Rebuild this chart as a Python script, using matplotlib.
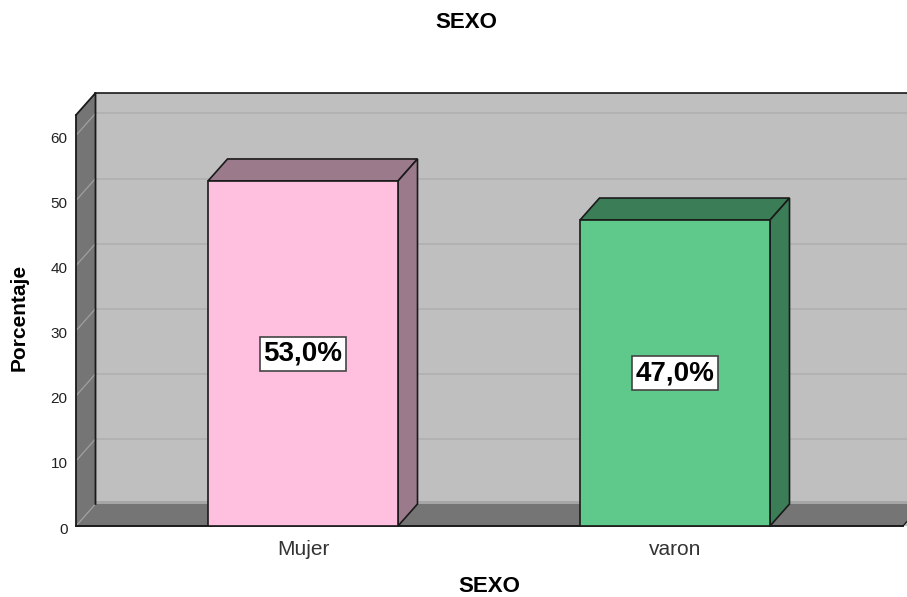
import matplotlib
matplotlib.use('Agg')
import matplotlib.pyplot as plt
from matplotlib.transforms import ScaledTranslation

plt.rcParams['font.family'] = ['Liberation Sans', 'DejaVu Sans']

categories = ['Mujer', 'varon']
percent = [53.0, 47.0]
bar_labels = ['53,0%', '47,0%']
yticks = [0, 10, 20, 30, 40, 50, 60]

front_colors = ['#ffc0e0', '#5ec98b']
side_colors = ['#9b7a8c', '#3a7d56']

W, H = 907, 597
fig = plt.figure(figsize=(W / 100, H / 100), dpi=100)
# axes box in pixels of the picture
left, right, bottom, top = 76, 907, 526, 93
ax = fig.add_axes([left / W, 1 - bottom / H, (right - left) / W, (bottom - top) / H])

px_y = 6.51   # pixels per percent
px_x = 372.0  # pixels between the bars
ax.set_xlim((left - 303) / px_x, (right - 303) / px_x)
ax.set_ylim(0, (bottom - top) / px_y)
dx = 19.5 / px_x
dy = 22 / px_y
x0, x1 = ax.get_xlim()
ytop = ax.get_ylim()[1]
width = 190 / px_x
floor_end = x1 - 4 / px_x
line = '#1a1a1a'

ax.set_facecolor('white')
for s in ax.spines.values():
    s.set_visible(False)

# back wall and its grid
ax.fill([x0 + dx, x1, x1, x0 + dx], [0, 0, ytop, ytop], color='#bfbfbf', zorder=0.5, lw=0)
for t in yticks[1:]:
    ax.plot([x0 + dx, x1], [t + dy, t + dy], color='#b0b0b0', lw=1.2, zorder=1)
ax.plot([x0 + dx, x1], [ytop, ytop], color=line, lw=1.2, zorder=2, clip_on=False)

# side wall
ax.fill([x0, x0 + dx, x0 + dx, x0], [0, dy, ytop, ytop - dy], color='#757575', zorder=2, lw=0)
for t in yticks:
    ax.plot([x0, x0 + dx], [t, t + dy], color='#a0a0a0', lw=0.9, zorder=3)
ax.plot([x0, x0 + dx, x0 + dx], [ytop - dy, ytop, dy], color=line, lw=1.3, zorder=4, clip_on=False)
ax.plot([x0, x0], [0, ytop - dy], color=line, lw=1.3, zorder=4, clip_on=False)

# floor
ax.fill([x0 + dx, x1 + dx, x1 + dx, x0 + dx], [dy, dy, dy + 0.5, dy + 0.5], color='#a6a6a6', zorder=1.5, lw=0)
ax.fill([x0, floor_end, floor_end + dx, x0 + dx], [0, 0, dy, dy], color='#757575', zorder=2, lw=0)
ax.plot([x0, floor_end], [0, 0], color=line, lw=1.4, zorder=4, clip_on=False)
ax.plot([floor_end, x1], [0, (x1 - floor_end) / dx * dy], color=line, lw=0.9, zorder=4)

# bars
for i, v in enumerate(percent):
    l, r = i - width / 2, i + width / 2
    ax.bar(i, v, width=width, color=front_colors[i], edgecolor=line, linewidth=1.2, zorder=6)
    ax.fill([l, l + dx, r + dx, r], [v, v + dy, v + dy, v], facecolor=side_colors[i],
            edgecolor=line, linewidth=1.2, zorder=5)
    ax.fill([r, r + dx, r + dx, r], [0, dy, v + dy, v], facecolor=side_colors[i],
            edgecolor=line, linewidth=1.2, zorder=5)
    ax.text(i, v / 2 - 0.05, bar_labels[i], ha='center', va='center', fontsize=20, fontweight='bold',
            color='black', zorder=7,
            bbox=dict(boxstyle='square,pad=0.14', facecolor='white', edgecolor='#444444', linewidth=1.2))

ax.set_yticks(yticks)
ax.set_xticks(range(len(categories)))
ax.set_xticklabels(categories, fontsize=15, color='#333333')
ax.tick_params(axis='both', length=0)
ax.tick_params(axis='y', labelsize=11, pad=6, labelcolor='#222222')
ax.tick_params(axis='x', pad=10)
# tick numbers sit a little under their grid line
shift = ScaledTranslation(0, -2 / 100, fig.dpi_scale_trans)
for lab in ax.get_yticklabels():
    lab.set_transform(lab.get_transform() + shift)

fig.text(466 / W, 1 - 23 / H, 'SEXO', ha='center', va='center', fontsize=16, fontweight='bold')
fig.text(489 / W, 1 - 587 / H, 'SEXO', ha='center', va='center', fontsize=16, fontweight='bold')
fig.text(19 / W, 1 - 317 / H, 'Porcentaje', ha='center', va='center', rotation=90, fontsize=15, fontweight='bold')

fig.savefig('out.png', dpi=100)
